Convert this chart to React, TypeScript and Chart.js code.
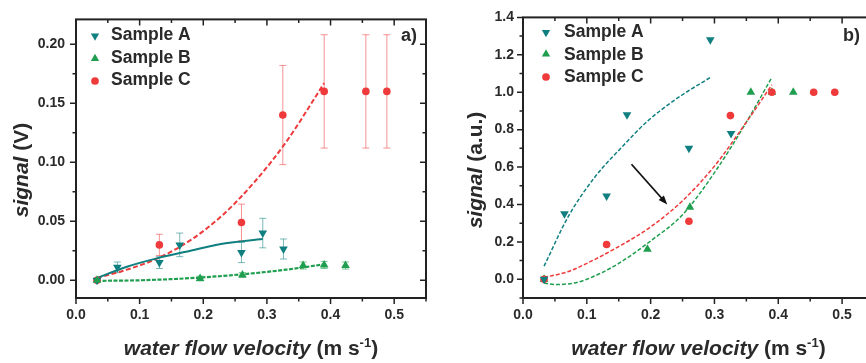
import React, { useEffect, useRef } from 'react';
import { Chart, registerables } from 'chart.js';

Chart.register(...registerables);

const FONT = '"Liberation Sans", Arial, Helvetica, sans-serif';
const TEAL = '#0f7f80';
const GREEN = '#1f9e4f';
const RED = '#ee3a3a';
const TEAL_ERR = 'rgba(15,127,128,0.55)';
const GREEN_ERR = 'rgba(31,158,79,0.6)';
const RED_ERR = 'rgba(238,58,58,0.55)';
const AXIS = '#222222';
const TEXT = '#2a2a2a';

// ---------- panel a) : raw signal (V) ----------
const velA = [0.033, 0.065, 0.131, 0.163, 0.26, 0.2935, 0.326];
const sigA = [0, 0.011, 0.015, 0.03, 0.0235, 0.04, 0.0265];
const errA = [0.001, 0.0045, 0.005, 0.01, 0.0085, 0.0125, 0.0085];

const velB = [0.033, 0.195, 0.2615, 0.357, 0.39, 0.4235];
const sigB = [0, 0.0015, 0.0045, 0.0125, 0.013, 0.0125];
const errB = [0.0015, 0.002, 0.002, 0.003, 0.003, 0.003];

const velC = [0.033, 0.131, 0.26, 0.325, 0.39, 0.4555, 0.4885];
const sigC = [0, 0.03, 0.049, 0.14, 0.16, 0.16, 0.16];
const errC = [0.001, 0.009, 0.0155, 0.042, 0.048, 0.048, 0.048];

// fitted curves read off panel a)
const fitA1x = [0.033, 0.08, 0.13, 0.18, 0.23, 0.2935];
const fitA1y = [0.002, 0.0115, 0.019, 0.025, 0.031, 0.035];
const fitB1x = [0.033, 0.1, 0.15, 0.2, 0.26, 0.33, 0.39];
const fitB1y = [-0.0005, 0, 0.001, 0.0025, 0.005, 0.009, 0.0135];
const fitC1x = [0.033, 0.08, 0.13, 0.18, 0.23, 0.28, 0.33, 0.39];
const fitC1y = [0.002, 0.009, 0.019, 0.034, 0.055, 0.083, 0.117, 0.167];

// ---------- panel b) : normalised signal (a.u.) ----------
const normA = [0, 0.35, 0.445, 0.88, 0.7, 1.28, 0.78];
const normB = [0, 0.16, 0.385, 1.0, 1.0, 1.0];
const normC = [0, 0.186, 0.31, 0.875, 1.0, 1.0, 1.0];

const fitA2x = [0.033, 0.071, 0.113, 0.155, 0.196, 0.2435, 0.293];
const fitA2y = [0.07, 0.336, 0.548, 0.707, 0.848, 0.972, 1.078];
const fitB2x = [0.033, 0.05, 0.08, 0.1, 0.15, 0.2, 0.25, 0.3, 0.35, 0.39];
const fitB2y = [-0.02, -0.028, -0.02, 0, 0.085, 0.205, 0.345, 0.57, 0.84, 1.08];
const fitC2x = [0.033, 0.07, 0.1, 0.15, 0.2, 0.25, 0.3, 0.35, 0.39];
const fitC2y = [0.01, 0.04, 0.085, 0.175, 0.28, 0.42, 0.605, 0.84, 1.04];

// arrow annotation in panel b) (data coordinates: [velocity, signal])
const arrowFrom = [0.17, 0.615];
const arrowTo = [0.226, 0.4];

const legendNames = ['Sample A', 'Sample B', 'Sample C'];

const pts = (xs: number[], ys: number[]) => xs.map((x, i) => ({ x, y: ys[i] }));

type Mk = 'down' | 'up' | 'circle';

function drawMarker(ctx: CanvasRenderingContext2D, style: Mk, x: number, y: number, r: number, color: string) {
  ctx.save();
  ctx.fillStyle = color;
  ctx.beginPath();
  if (style === 'circle') {
    ctx.arc(x, y, r * 0.8, 0, Math.PI * 2);
  } else {
    const s = style === 'up' ? 1 : -1;
    ctx.moveTo(x, y - s * r);
    ctx.lineTo(x + 0.866 * r, y + s * r * 0.5);
    ctx.lineTo(x - 0.866 * r, y + s * r * 0.5);
    ctx.closePath();
  }
  ctx.fill();
  ctx.restore();
}

type Part = { t: string; f: string; dy?: number };

function drawParts(ctx: CanvasRenderingContext2D, parts: Part[], cx: number, y: number) {
  let total = 0;
  for (const p of parts) {
    ctx.font = p.f;
    total += ctx.measureText(p.t).width;
  }
  let x = cx - total / 2;
  ctx.textAlign = 'left';
  ctx.textBaseline = 'alphabetic';
  for (const p of parts) {
    ctx.font = p.f;
    ctx.fillText(p.t, x, y + (p.dy || 0));
    x += ctx.measureText(p.t).width;
  }
}

interface PanelCfg {
  xMax: number;
  yMin: number;
  yMax: number;
  yStep: number;
  yDigits: number;
  pad: { top: number; right: number; left: number; bottom: number };
  yWidth: number;
  yPad: number;
  datasets: any[];
  errors: { xs: number[]; ys: number[]; es: number[]; color: string }[];
  legend: { mx: number; my: number[]; tx: number; ty: number[]; styles: Mk[]; colors: string[] };
  label: { text: string; x: number; y: number };
  yTitle: { x: number; y: number; unit: string };
  arrow?: { from: number[]; to: number[] };
}

function makeDecor(cfg: PanelCfg) {
  return {
    id: 'decor',
    beforeDatasetsDraw(chart: any) {
      const ctx: CanvasRenderingContext2D = chart.ctx;
      const xs = chart.scales.x;
      const ys = chart.scales.y;
      ctx.save();
      ctx.lineWidth = 1;
      for (const e of cfg.errors) {
        ctx.strokeStyle = e.color;
        e.xs.forEach((xv, i) => {
          const px = xs.getPixelForValue(xv);
          const y1 = ys.getPixelForValue(e.ys[i] + e.es[i]);
          const y2 = ys.getPixelForValue(e.ys[i] - e.es[i]);
          ctx.beginPath();
          ctx.moveTo(px, y1);
          ctx.lineTo(px, y2);
          ctx.moveTo(px - 3.5, y1);
          ctx.lineTo(px + 3.5, y1);
          ctx.moveTo(px - 3.5, y2);
          ctx.lineTo(px + 3.5, y2);
          ctx.stroke();
        });
      }
      ctx.restore();
    },
    afterDraw(chart: any) {
      const ctx: CanvasRenderingContext2D = chart.ctx;
      const { left, right, top, bottom } = chart.chartArea;
      const xs = chart.scales.x;
      const ys = chart.scales.y;
      ctx.save();
      // ticks
      ctx.strokeStyle = AXIS;
      ctx.lineWidth = 1.5;
      ctx.beginPath();
      const xMinor = 0.05;
      for (let k = 0; k * xMinor <= cfg.xMax + 1e-9; k++) {
        const px = xs.getPixelForValue(k * xMinor);
        const L = k % 2 === 0 ? 6 : 3.5;
        ctx.moveTo(px, bottom);
        ctx.lineTo(px, bottom + L);
        ctx.moveTo(px, top);
        ctx.lineTo(px, top + L);
      }
      const yMinor = cfg.yStep / 2;
      const k0 = Math.ceil(cfg.yMin / yMinor - 1e-9);
      const k1 = Math.floor(cfg.yMax / yMinor + 1e-9);
      for (let k = k0; k <= k1; k++) {
        const py = ys.getPixelForValue(k * yMinor);
        const L = Math.abs(k) % 2 === 0 ? 6 : 3.5;
        ctx.moveTo(left, py);
        ctx.lineTo(left - L, py);
        ctx.moveTo(right, py);
        ctx.lineTo(right - L, py);
      }
      ctx.stroke();
      // frame
      ctx.lineWidth = 2;
      ctx.strokeRect(left, top, right - left, bottom - top);

      // legend
      ctx.textAlign = 'left';
      ctx.textBaseline = 'alphabetic';
      legendNames.forEach((n, i) => {
        drawMarker(ctx, cfg.legend.styles[i], cfg.legend.mx, cfg.legend.my[i], 4.8, cfg.legend.colors[i]);
        ctx.fillStyle = TEXT;
        ctx.font = `bold 17.5px ${FONT}`;
        ctx.fillText(n, cfg.legend.tx, cfg.legend.ty[i]);
      });

      // panel label
      ctx.fillStyle = TEXT;
      ctx.font = `bold 18px ${FONT}`;
      ctx.textAlign = 'right';
      ctx.fillText(cfg.label.text, cfg.label.x, cfg.label.y);

      // x title
      drawParts(
        ctx,
        [
          { t: 'water flow velocity', f: `italic bold 21px ${FONT}` },
          { t: ' (m s', f: `bold 21px ${FONT}` },
          { t: '-1', f: `bold 13px ${FONT}`, dy: -8 },
          { t: ')', f: `bold 21px ${FONT}` },
        ],
        (left + right) / 2,
        355
      );

      // y title
      ctx.save();
      ctx.translate(cfg.yTitle.x, cfg.yTitle.y);
      ctx.rotate(-Math.PI / 2);
      drawParts(
        ctx,
        [
          { t: 'signal', f: `italic bold 21px ${FONT}` },
          { t: ' ' + cfg.yTitle.unit, f: `bold 21px ${FONT}` },
        ],
        0,
        0
      );
      ctx.restore();

      // arrow
      if (cfg.arrow) {
        const x1 = xs.getPixelForValue(cfg.arrow.from[0]);
        const y1 = ys.getPixelForValue(cfg.arrow.from[1]);
        const x2 = xs.getPixelForValue(cfg.arrow.to[0]);
        const y2 = ys.getPixelForValue(cfg.arrow.to[1]);
        const ang = Math.atan2(y2 - y1, x2 - x1);
        ctx.strokeStyle = '#111';
        ctx.fillStyle = '#111';
        ctx.lineWidth = 1.8;
        ctx.beginPath();
        ctx.moveTo(x1, y1);
        ctx.lineTo(x2 - 6 * Math.cos(ang), y2 - 6 * Math.sin(ang));
        ctx.stroke();
        ctx.beginPath();
        ctx.moveTo(x2, y2);
        ctx.lineTo(x2 - 9 * Math.cos(ang) + 3.5 * Math.sin(ang), y2 - 9 * Math.sin(ang) - 3.5 * Math.cos(ang));
        ctx.lineTo(x2 - 9 * Math.cos(ang) - 3.5 * Math.sin(ang), y2 - 9 * Math.sin(ang) + 3.5 * Math.cos(ang));
        ctx.closePath();
        ctx.fill();
      }
      ctx.restore();
    },
  };
}

function buildChart(canvas: HTMLCanvasElement, cfg: PanelCfg) {
  const tickFont = { family: FONT, size: 14, weight: 'bold' as const };
  return new Chart(canvas, {
    type: 'scatter',
    data: { datasets: cfg.datasets },
    options: {
      animation: false,
      responsive: false,
      events: [],
      layout: { padding: cfg.pad },
      plugins: { legend: { display: false }, tooltip: { enabled: false } },
      scales: {
        x: {
          type: 'linear',
          min: 0,
          max: cfg.xMax,
          grid: { display: false, drawTicks: false },
          border: { display: false },
          afterFit: (s: any) => {
            s.height = 65;
          },
          ticks: {
            stepSize: 0.1,
            includeBounds: false,
            autoSkip: false,
            maxRotation: 0,
            padding: 9,
            color: TEXT,
            font: tickFont,
            callback: (v: any) => Number(v).toFixed(1),
          },
        },
        y: {
          type: 'linear',
          min: cfg.yMin,
          max: cfg.yMax,
          grid: { display: false, drawTicks: false },
          border: { display: false },
          afterFit: (s: any) => {
            s.width = cfg.yWidth;
          },
          ticks: {
            stepSize: cfg.yStep,
            includeBounds: false,
            autoSkip: false,
            padding: cfg.yPad,
            color: TEXT,
            font: tickFont,
            callback: (v: any) => Number(v).toFixed(cfg.yDigits),
          },
        },
      },
    },
    plugins: [makeDecor(cfg)],
  } as any);
}

function markerSet(data: any[], color: string, style: Mk, r: number) {
  return {
    data,
    showLine: false,
    pointStyle: style === 'circle' ? 'circle' : 'triangle',
    rotation: style === 'down' ? 180 : 0,
    pointRadius: r,
    pointBackgroundColor: color,
    pointBorderWidth: 0,
    borderColor: color,
    backgroundColor: color,
  };
}

function lineSet(data: any[], color: string, width: number, dash: number[]) {
  return {
    data,
    showLine: true,
    pointRadius: 0,
    borderColor: color,
    borderWidth: width,
    borderDash: dash,
    cubicInterpolationMode: 'monotone',
    fill: false,
  };
}

export default function App() {
  const leftRef = useRef<HTMLCanvasElement>(null);
  const rightRef = useRef<HTMLCanvasElement>(null);

  useEffect(() => {
    const left = buildChart(leftRef.current as HTMLCanvasElement, {
      xMax: 0.55,
      yMin: -0.015,
      yMax: 0.221,
      yStep: 0.05,
      yDigits: 2,
      pad: { top: 16, right: 7, left: 0, bottom: 0 },
      yWidth: 76,
      yPad: 11,
      datasets: [
        markerSet(pts(velB, sigB), GREEN, 'up', 5),
        markerSet(pts(velA, sigA), TEAL, 'down', 5),
        markerSet(pts(velC, sigC), RED, 'circle', 3.8),
        lineSet(pts(fitA1x, fitA1y), TEAL, 2, []),
        lineSet(pts(fitB1x, fitB1y), GREEN, 2.2, [4, 1.5]),
        lineSet(pts(fitC1x, fitC1y), RED, 2, [5, 2.5]),
      ],
      errors: [
        { xs: velC, ys: sigC, es: errC, color: RED_ERR },
        { xs: velA, ys: sigA, es: errA, color: TEAL_ERR },
        { xs: velB, ys: sigB, es: errB, color: GREEN_ERR },
      ],
      legend: {
        mx: 95,
        my: [36, 58.5, 81],
        tx: 111,
        ty: [40, 62.5, 85],
        styles: ['down', 'up', 'circle'],
        colors: [TEAL, GREEN, RED],
      },
      label: { text: 'a)', x: 417, y: 41 },
      yTitle: { x: 28, y: 170, unit: '(V)' },
    });

    const right = buildChart(rightRef.current as HTMLCanvasElement, {
      xMax: 0.55,
      yMin: -0.1,
      yMax: 1.4,
      yStep: 0.2,
      yDigits: 1,
      pad: { top: 16, right: 19, left: 0, bottom: 0 },
      yWidth: 90,
      yPad: 9,
      datasets: [
        markerSet(pts(velA, normA), TEAL, 'down', 5),
        markerSet(pts(velC, normC), RED, 'circle', 3.8),
        markerSet(pts(velB, normB), GREEN, 'up', 5),
        lineSet(pts(fitA2x, fitA2y), TEAL, 1.5, [4, 2]),
        lineSet(pts(fitC2x, fitC2y), RED, 1.5, [4, 2]),
        lineSet(pts(fitB2x, fitB2y), GREEN, 1.5, [4, 2]),
      ],
      errors: [],
      legend: {
        mx: 113,
        my: [32.5, 54, 77],
        tx: 131,
        ty: [37, 59.5, 82],
        styles: ['down', 'up', 'circle'],
        colors: [TEAL, GREEN, RED],
      },
      label: { text: 'b)', x: 427, y: 41 },
      yTitle: { x: 49, y: 170, unit: '(a.u.)' },
      arrow: { from: arrowFrom, to: arrowTo },
    });

    return () => {
      left.destroy();
      right.destroy();
    };
  }, []);

  return (
    <div
      style={{
        position: 'fixed',
        left: 0,
        top: 0,
        width: 866,
        height: 363,
        overflow: 'hidden',
        background: '#ffffff',
      }}
    >
      <canvas
        ref={leftRef}
        width={433}
        height={363}
        style={{ position: 'absolute', left: 0, top: 0, width: 433, height: 363 }}
      />
      <canvas
        ref={rightRef}
        width={460}
        height={363}
        style={{ position: 'absolute', left: 433, top: 0, width: 460, height: 363 }}
      />
    </div>
  );
}
